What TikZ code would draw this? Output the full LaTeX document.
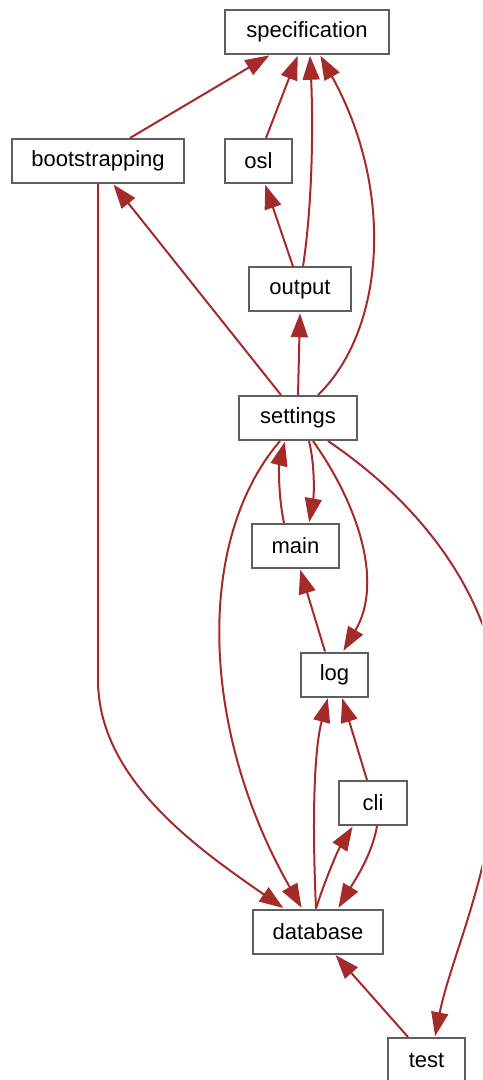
\documentclass[tikz,border=0pt]{standalone}
\usepackage{fontspec}
\setmainfont{Liberation Sans}
\usetikzlibrary{arrows.meta}
\definecolor{edgebrown}{RGB}{165,42,42}
\definecolor{boxgray}{RGB}{95,95,95}
\tikzset{
  mod/.style={draw=boxgray, line width=1pt, fill=white, minimum height=22pt,
    inner xsep=0pt, inner ysep=0pt, font=\fontsize{11}{13}\selectfont},
  dep/.style={draw=edgebrown, line width=1pt,
    -{Triangle[length=12pt,width=8.5pt]}, shorten >=0.4pt},
}
\begin{document}
\begin{tikzpicture}[x=0.5pt, y=-0.5pt]
          \useasboundingbox (0, 0) rectangle (482, 1080);
          \clip (0, 0) rectangle (482, 1080);

          % modules
          \node [mod, minimum width=82pt] (specification) at (307, 32) {specification};
          \node [mod, minimum width=86pt] (bootstrapping) at (98, 161) {bootstrapping};
          \node [mod, minimum width=33.5pt] (osl) at (258.5, 161) {osl};
          \node [mod, minimum width=51pt] (output) at (300, 289.5) {output};
          \node [mod, minimum width=59pt] (settings) at (298, 418) {settings};
          \node [mod, minimum width=43.5pt] (main) at (295.5, 546) {main};
          \node [mod, minimum width=33.5pt] (log) at (334.5, 674.5) {log};
          \node [mod, minimum width=34pt] (cli) at (373, 803) {cli};
          \node [mod, minimum width=65pt] (database) at (318, 931.5) {database};
          \node [mod, minimum width=38.5pt] (test) at (426.5, 1060) {test};

          % dependencies
          \draw [dep] (bootstrapping.north -| 130, 0) -- (specification.south -| 270, 0);
          \draw [dep] (osl.north -| 266, 0) -- (specification.south -| 298, 0);
          \draw [dep] (output.north -| 303, 0) .. controls (313, 200) and (313, 120) .. (specification.south -| 310, 0);
          \draw [dep] (settings.north -| 318, 0) .. controls (385, 330) and (395, 190) .. (specification.south -| 320, 0);
          \draw [dep] (output.north -| 293, 0) -- (osl.south -| 265, 0);
          \draw [dep] (settings.north -| 281, 0) -- (bootstrapping.south -| 113, 0);
          \draw [dep] (settings.north -| 298, 0) -- (output.south -| 300, 0);
          \draw [dep] (main.north -| 284, 0) .. controls (278, 495) and (279, 465) .. (settings.south -| 285, 0);
          \draw [dep] (settings.south -| 309, 0) .. controls (315, 465) and (314, 495) .. (main.north -| 309, 0);
          \draw [dep] (settings.south -| 313, 0) .. controls (355, 500) and (385, 580) .. (log.north -| 343, 0);
          \draw [dep] (settings.south -| 328, 0) .. controls (430, 510) and (515, 620) .. (500, 760)
                      .. controls (490, 880) and (450, 960) .. (test.north -| 435, 0);
          \draw [dep] (settings.south -| 280, 0) .. controls (195, 540) and (200, 730) .. (database.north -| 302, 0);
          \draw [dep] (bootstrapping.south -| 98, 0) -- (98, 680) .. controls (98, 780) and (200, 850) .. (database.north -| 284, 0);
          \draw [dep] (log.north -| 325, 0) -- (main.south -| 300, 0);
          \draw [dep] (database.north -| 316, 0) .. controls (312, 820) and (314, 750) .. (log.south -| 328, 0);
          \draw [dep] (cli.north -| 367, 0) -- (log.south -| 342, 0);
          \draw [dep] (database.north -| 316, 0) .. controls (325, 880) and (338, 850) .. (cli.south -| 353, 0);
          \draw [dep] (cli.south -| 377, 0) .. controls (372, 855) and (355, 880) .. (database.north -| 338, 0);
          \draw [dep] (test.north -| 408, 0) -- (database.south -| 335, 0);
        \end{tikzpicture}
\end{document}
